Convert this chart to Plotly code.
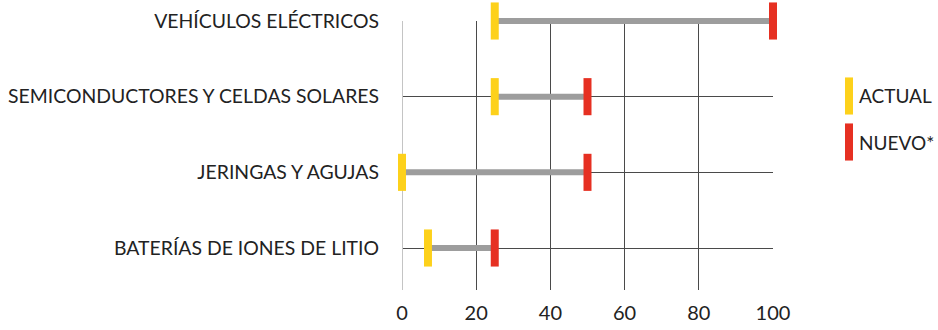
import plotly.graph_objects as go

# Sectores y porcentajes (actual vs nuevo)
categories = ["VEHÍCULOS ELÉCTRICOS", "SEMICONDUCTORES Y CELDAS SOLARES",
              "JERINGAS Y AGUJAS", "BATERÍAS DE IONES DE LITIO"]
actual = [25, 25, 0, 7]
nuevo = [100, 50, 50, 25]
x_ticks = [0, 20, 40, 60, 80, 100]
legend_labels = ["ACTUAL", "NUEVO*"]

YELLOW = "#FDD11B"
RED = "#E63022"
GREY = "#9d9d9d"
GRID = "#4a4a4a"
TEXT = "#222222"
FONT = "Lato"

W, H = 938, 330
L, B = 402, 40
GRID_TOP = 21          # top gridline (first row)
T = 13                 # room above it so the first row's marks are not clipped
PLOT_W = 371
paper_w = W - L
paper_h = H - T - B
grid_h = H - GRID_TOP - B
y_lo, y_hi = -0.555, 3
row_px = grid_h / (y_hi - y_lo)
y_hi_ext = y_hi + (GRID_TOP - T) / row_px
x_dom = [0, PLOT_W / paper_w]

ypos = list(range(len(categories) - 1, -1, -1))

fig = go.Figure()

# base axes: grid and category labels only (transparent points)
fig.add_trace(go.Scatter(x=nuevo, y=ypos, mode="markers",
                         marker=dict(opacity=0), hoverinfo="skip", showlegend=False))

# connecting bars between the two values (drawn on an invisible, taller overlay)
xs, ys = [], []
for a, n, y in zip(actual, nuevo, ypos):
    xs += [a, n, None]
    ys += [y, y, None]
fig.add_trace(go.Scatter(x=xs, y=ys, mode="lines", line=dict(color=GREY, width=6),
                         xaxis="x3", yaxis="y3",
                         hoverinfo="skip", showlegend=False))

def tick_marker(color):
    return dict(symbol="line-ns-open", size=26.5,
                line=dict(color=color, width=8), color=color)

fig.add_trace(go.Scatter(x=actual, y=ypos, mode="markers", name=legend_labels[0],
                         marker=tick_marker(YELLOW), xaxis="x3", yaxis="y3",
                         showlegend=False, cliponaxis=False))
fig.add_trace(go.Scatter(x=nuevo, y=ypos, mode="markers", name=legend_labels[1],
                         marker=tick_marker(RED), xaxis="x3", yaxis="y3",
                         showlegend=False, cliponaxis=False))

# legend drawn on its own small axis
leg_y = [1, 0]
fig.add_trace(go.Scatter(x=[0, 0], y=leg_y, mode="markers",
                         marker=dict(symbol="line-ns-open", size=26.5,
                                     line=dict(color=[YELLOW, RED], width=8),
                                     color=[YELLOW, RED]),
                         xaxis="x2", yaxis="y2", showlegend=False,
                         hoverinfo="skip", cliponaxis=False))
for lbl, yy in zip(legend_labels, leg_y):
    fig.add_annotation(x=0, y=yy, xref="x2", yref="y2", text=lbl,
                       showarrow=False, xanchor="left", xshift=8,
                       font=dict(family=FONT, size=19, color=TEXT))

fig.update_layout(
    width=W, height=H, autosize=False,
    margin=dict(l=L, r=0, t=T, b=B, pad=0, autoexpand=False),
    paper_bgcolor="white", plot_bgcolor="rgba(0,0,0,0)",
    font=dict(family=FONT, size=19, color=TEXT),
    xaxis=dict(domain=x_dom, range=[0, 100],
               tickvals=x_ticks, ticktext=[str(v) for v in x_ticks],
               showgrid=True, gridcolor=GRID, gridwidth=1.2,
               zeroline=True, zerolinecolor="#c4c4c4", zerolinewidth=1.2,
               showline=False, ticks="outside", ticklen=5, tickcolor="white",
               tickfont=dict(family=FONT, size=20, color=TEXT), fixedrange=True,
               automargin=False),
    yaxis=dict(domain=[0, grid_h / paper_h], range=[y_lo, y_hi],
               tickvals=ypos, ticktext=categories,
               showgrid=True, gridcolor=GRID, gridwidth=1.2,
               zeroline=False, showline=False, ticks="",
               ticklabelstandoff=22, automargin=False,
               tickfont=dict(family=FONT, size=19.4, color=TEXT), fixedrange=True),
    xaxis3=dict(domain=x_dom, range=[0, 100], anchor="y3", visible=False,
                fixedrange=True),
    yaxis3=dict(domain=[0, 1], range=[y_lo, y_hi_ext], anchor="x3", visible=False,
                fixedrange=True),
    xaxis2=dict(domain=[0.8, 1], range=[-18.2, 89], anchor="y2", visible=False,
                fixedrange=True),
    yaxis2=dict(domain=[0, 1], anchor="x2", range=[-3.217, 2.804],
                visible=False, fixedrange=True),
)

fig.write_html("out.html")
